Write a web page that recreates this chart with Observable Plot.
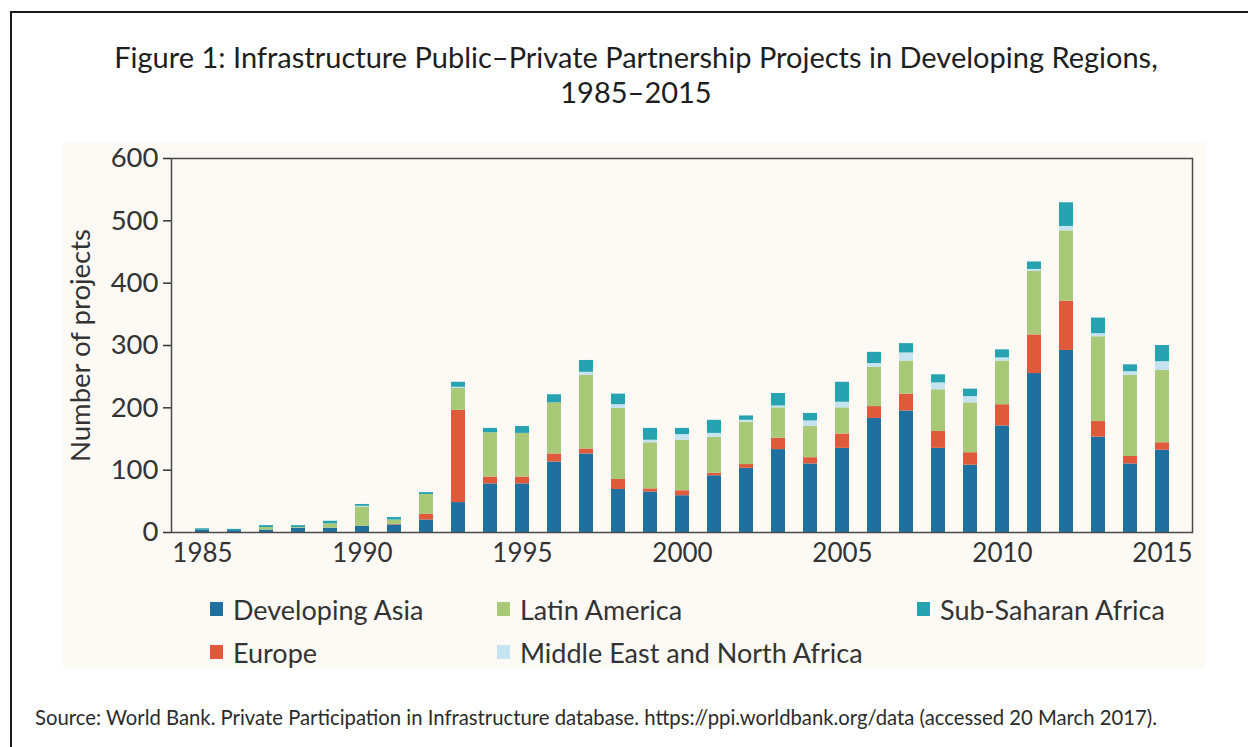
<!DOCTYPE html>
<html>
<head>
<meta charset="utf-8">
<script src="https://cdn.jsdelivr.net/npm/d3@7"></script>
<script src="https://cdn.jsdelivr.net/npm/@observablehq/plot@0.6"></script>
<style>
  html, body { margin: 0; padding: 0; background: #ffffff; }
  body { width: 1248px; height: 747px; position: relative; overflow: hidden;
         font-family: Lato, "Open Sans", sans-serif; color: #2b2b2b; }
  #frame { position: absolute; left: 10px; top: 11px; width: 1250px; height: 750px;
           border-top: 2px solid #1a1a1a; border-left: 2px solid #1a1a1a; }
  #title { position: absolute; left: 0; width: 1272px; top: 39px; text-align: center;
           font-size: 29px; line-height: 35px; color: #1e1e1e; }
  #panel { position: absolute; left: 63px; top: 142px; width: 1142px; height: 526px; background: #fdfaf6; }
  #chart { position: absolute; left: 0; top: 0; }
  .lg { position: absolute; display: flex; align-items: center; font-size: 27px; color: #333; white-space: nowrap; }
  .lg span.sw { display: inline-block; width: 13px; height: 14px; margin-right: 10px; }
  #source { position: absolute; left: 35px; top: 705px; font-size: 20.3px; color: #2b2b2b; white-space: nowrap; }
</style>
</head>
<body>
<div id="frame"></div>
<div id="title">Figure 1: Infrastructure Public–Private Partnership Projects in Developing Regions,<br>1985–2015</div>
<div id="panel"><div id="chart"></div></div>
<div id="source">Source: World Bank. Private Participation in Infrastructure database. https://ppi.worldbank.org/data (accessed 20 March 2017).</div>
<script>
const years = [1985, 1986, 1987, 1988, 1989, 1990, 1991, 1992, 1993, 1994, 1995, 1996, 1997, 1998, 1999, 2000,
               2001, 2002, 2003, 2004, 2005, 2006, 2007, 2008, 2009, 2010, 2011, 2012, 2013, 2014, 2015];
const regions = ["Developing Asia", "Europe", "Latin America", "Middle East and North Africa", "Sub-Saharan Africa"];
const colors = ["#1f6f9f", "#e0593b", "#a9c878", "#c6e3f0", "#27a2b0"];

const developingAsia = [4, 3, 4, 7, 7, 10, 12, 20, 48, 78, 78, 113, 126, 69, 65, 59, 91, 103, 133, 110, 135, 183, 195, 135, 108, 171, 255, 292, 153, 110, 132];
const europe         = [0, 0, 0, 0, 0, 0, 1, 9, 148, 11, 11, 13, 8, 16, 5, 8, 4, 6, 18, 10, 23, 19, 27, 27, 20, 34, 62, 79, 25, 12, 12];
const latinAmerica   = [0, 0, 4, 1, 7, 31, 7, 32, 35, 71, 70, 82, 118, 114, 74, 81, 58, 68, 49, 50, 42, 63, 53, 67, 80, 70, 102, 113, 136, 130, 116];
const middleEastNA   = [0, 0, 0, 0, 0, 1, 0, 0, 2, 0, 0, 0, 5, 6, 4, 9, 6, 3, 3, 9, 9, 6, 13, 11, 10, 5, 3, 7, 5, 6, 14];
const subSaharan     = [2, 2, 3, 3, 4, 3, 4, 3, 8, 7, 11, 13, 19, 17, 19, 10, 21, 7, 20, 12, 32, 18, 15, 13, 12, 13, 12, 38, 25, 11, 26];

const yTicks = [0, 100, 200, 300, 400, 500, 600];
const xTicks = [1985, 1990, 1995, 2000, 2005, 2010, 2015];
const yLabel = "Number of projects";

const series = [developingAsia, europe, latinAmerica, middleEastNA, subSaharan];
const rows = years.flatMap((yr, i) => regions.map((r, j) => ({year: yr, region: r, value: series[j][i]})));

const chart = Plot.plot({
  width: 1142, height: 440,
  marginLeft: 108, marginRight: 13, marginTop: 16, marginBottom: 50,
  style: {background: "transparent", fontFamily: "Lato, 'Open Sans', sans-serif", fontSize: "26px", color: "#333", overflow: "visible"},
  x: {type: "band", domain: years, paddingInner: 0.575, paddingOuter: 0.2875, align: 0.5},
  y: {domain: [0, 600]},
  color: {domain: regions, range: colors},
  marks: [
    Plot.barY(rows, {x: "year", y: "value", fill: "region", order: regions}),
    Plot.frame({stroke: "#4a4a4a", strokeWidth: 1.5}),
    Plot.axisY({ticks: yTicks, tickSize: 8, tickPadding: 5, fontSize: 27.5, strokeWidth: 1.5,
                label: yLabel, labelAnchor: "center", labelArrow: false, labelOffset: 101}),
    Plot.axisX({ticks: xTicks, tickSize: 0, tickPadding: 11, fontSize: 26, label: null, tickFormat: d => String(d)})
  ]
});
document.getElementById("chart").appendChild(chart);

// legend: two rows, column-major like the original
const panel = document.getElementById("panel");
const colX = [147, 434, 854];
const rowY = [467, 510];
regions.forEach((r, k) => {
  const col = Math.floor(k / 2), row = k % 2;
  const item = document.createElement("div");
  item.className = "lg";
  item.style.left = colX[col] + "px";
  item.style.top = (rowY[row] - 17) + "px";
  item.style.height = "34px";
  const sw = document.createElement("span");
  sw.className = "sw";
  sw.style.background = colors[k];
  item.appendChild(sw);
  item.appendChild(document.createTextNode(r));
  panel.appendChild(item);
});
</script>
</body>
</html>
